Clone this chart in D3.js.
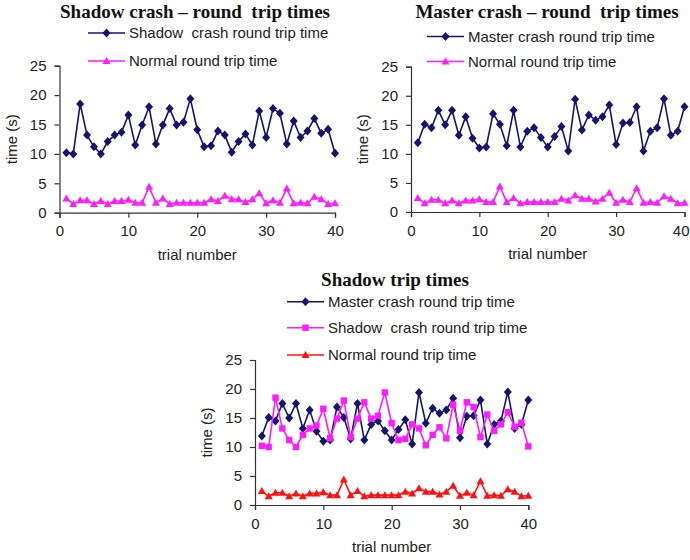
<!DOCTYPE html>
<html>
<head>
<meta charset="utf-8">
<script src="https://cdn.jsdelivr.net/npm/d3@7"></script>
<style>
  body { margin: 0; background: #fff; }
  svg { display: block; }
  text { font-family: "Liberation Sans", Arial, sans-serif; fill: #222; white-space: pre; }
  .title { font-family: "Liberation Serif", "Times New Roman", serif; font-weight: bold; font-size: 19px; fill: #111; }
</style>
</head>
<body>
<svg id="chart" width="690" height="560"></svg>
<script>
const trials = d3.range(1, 41);
const yTicks = [0, 5, 10, 15, 20, 25];
const xTicks = [0, 10, 20, 30, 40];

const shadowCrash = [10.2, 10.0, 18.5, 13.2, 11.2, 10.0, 12.1, 13.2, 13.7, 16.6,
  11.5, 14.9, 18.0, 11.7, 14.9, 17.7, 14.9, 15.4, 19.4, 14.1,
  11.2, 11.4, 13.9, 13.2, 10.3, 12.1, 13.4, 11.5, 17.3, 12.8,
  17.7, 16.9, 11.7, 15.6, 12.8, 13.9, 16.0, 13.5, 14.2, 10.1];

const masterCrash = [11.9, 15.1, 14.5, 17.5, 15.0, 17.5, 13.2, 16.4, 12.7, 11.0,
  11.2, 16.9, 15.1, 11.4, 17.5, 11.2, 13.9, 14.5, 12.8, 11.2,
  13.0, 14.7, 10.5, 19.4, 14.1, 16.7, 15.8, 16.4, 18.4, 11.6,
  15.3, 15.4, 18.1, 10.5, 13.9, 14.5, 19.5, 13.2, 13.9, 18.1];

const normalTrip = [2.4, 1.5, 2.1, 2.1, 1.5, 2.0, 1.5, 2.0, 2.0, 2.2,
  1.7, 1.7, 4.4, 1.7, 2.4, 1.5, 1.7, 1.7, 1.7, 1.7,
  1.7, 2.3, 2.0, 2.9, 2.3, 2.3, 1.8, 2.3, 3.3, 1.6,
  2.1, 1.7, 4.1, 1.6, 1.7, 1.6, 2.7, 2.3, 1.5, 1.6];

const navy = "#14146e";
const magenta = "#ff1aff";
const red = "#ff1010";

const svg = d3.select("#chart");

function marker(sel, shape, color) {
  if (shape === "diamond") {
    sel.append("path").attr("d", "M0,-4.5L4,0L0,4.5L-4,0Z").attr("fill", color);
  } else if (shape === "triangle") {
    sel.append("path").attr("d", "M0,-4L4,3L-4,3Z").attr("fill", color);
  } else {
    sel.append("rect").attr("x", -3.2).attr("y", -3.2).attr("width", 6.4).attr("height", 6.4).attr("fill", color);
  }
}

function drawChart(cfg) {
  const g = svg.append("g");
  const x = d3.scaleLinear().domain([0, 40]).range([cfg.left, cfg.right]);
  const y = d3.scaleLinear().domain([0, 25]).range([cfg.bottom, cfg.top]);

  g.append("text").attr("class", "title")
    .attr("x", cfg.titleX).attr("y", cfg.titleY)
    .attr("text-anchor", "middle").text(cfg.title);

  // legend
  cfg.series.forEach((s, i) => {
    const ly = cfg.legendY[i];
    const lg = g.append("g");
    lg.append("line").attr("x1", cfg.legendX).attr("x2", cfg.legendX + 37)
      .attr("y1", ly).attr("y2", ly).attr("stroke", s.color).attr("stroke-width", 1.5);
    marker(lg.append("g").attr("transform", `translate(${cfg.legendX + 18.5},${ly})`), s.shape, s.color);
    lg.append("text").attr("x", cfg.legendX + 41).attr("y", ly + 5)
      .style("font-size", "15px").text(s.name);
  });

  // axes
  const xAxis = d3.axisBottom(x).tickValues(xTicks).tickSize(5).tickPadding(8);
  const yAxis = d3.axisLeft(y).tickValues(yTicks).tickSize(5).tickPadding(8);

  const gx = g.append("g").attr("transform", `translate(0,${cfg.bottom})`).call(xAxis);
  const gy = g.append("g").attr("transform", `translate(${cfg.left},0)`).call(yAxis);
  [gx, gy].forEach(a => {
    a.select(".domain").attr("stroke", "#333").attr("stroke-width", 1.2);
    a.selectAll(".tick line").attr("stroke", "#333").attr("stroke-width", 1.2);
    a.selectAll(".tick text").style("font-size", "15px").style("font-family", "Liberation Sans, Arial, sans-serif").attr("fill", "#222");
  });
  // keep the last x label inside the page edge
  if (cfg.right > 680) {
    gx.selectAll(".tick text").filter(d => d === 40)
      .attr("text-anchor", "end").attr("x", 689 - cfg.right);
  }

  g.append("text").attr("x", (cfg.left + cfg.right) / 2).attr("y", cfg.bottom + 47)
    .attr("text-anchor", "middle").style("font-size", "15px").text("trial number");
  g.append("text")
    .attr("transform", `translate(${cfg.left - 43},${(cfg.top + cfg.bottom) / 2}) rotate(-90)`)
    .attr("text-anchor", "middle").style("font-size", "15px").text("time (s)");

  // series
  cfg.series.forEach(s => {
    const line = d3.line().x((d, i) => x(trials[i])).y(d => y(d));
    g.append("path").datum(s.values).attr("d", line)
      .attr("fill", "none").attr("stroke", s.color).attr("stroke-width", 1.6);
    g.selectAll(null).data(s.values).enter().append("g")
      .attr("transform", (d, i) => `translate(${x(trials[i])},${y(d)})`)
      .each(function () { marker(d3.select(this), s.shape, s.color); });
  });
}

drawChart({
  title: "Shadow crash \u2013 round  trip times", titleX: 195, titleY: 18,
  left: 59.5, right: 335, top: 65.7, bottom: 212.7,
  legendX: 88, legendY: [33, 61],
  series: [
    { name: "Shadow  crash round trip time", values: shadowCrash, color: navy, shape: "diamond" },
    { name: "Normal round trip time", values: normalTrip, color: magenta, shape: "triangle" }
  ]
});

drawChart({
  title: "Master crash \u2013 round  trip times", titleX: 547, titleY: 18,
  left: 411, right: 684.5, top: 66.7, bottom: 212,
  legendX: 427, legendY: [36.5, 61.5],
  series: [
    { name: "Master crash round trip time", values: masterCrash, color: navy, shape: "diamond" },
    { name: "Normal round trip time", values: normalTrip, color: magenta, shape: "triangle" }
  ]
});

drawChart({
  title: "Shadow trip times", titleX: 395, titleY: 286,
  left: 255, right: 528.3, top: 360, bottom: 505,
  legendX: 287, legendY: [301.7, 327.7, 355],
  series: [
    { name: "Master crash round trip time", values: masterCrash, color: navy, shape: "diamond" },
    { name: "Shadow  crash round trip time", values: shadowCrash, color: magenta, shape: "square" },
    { name: "Normal round trip time", values: normalTrip, color: red, shape: "triangle" }
  ]
});
</script>
</body>
</html>
